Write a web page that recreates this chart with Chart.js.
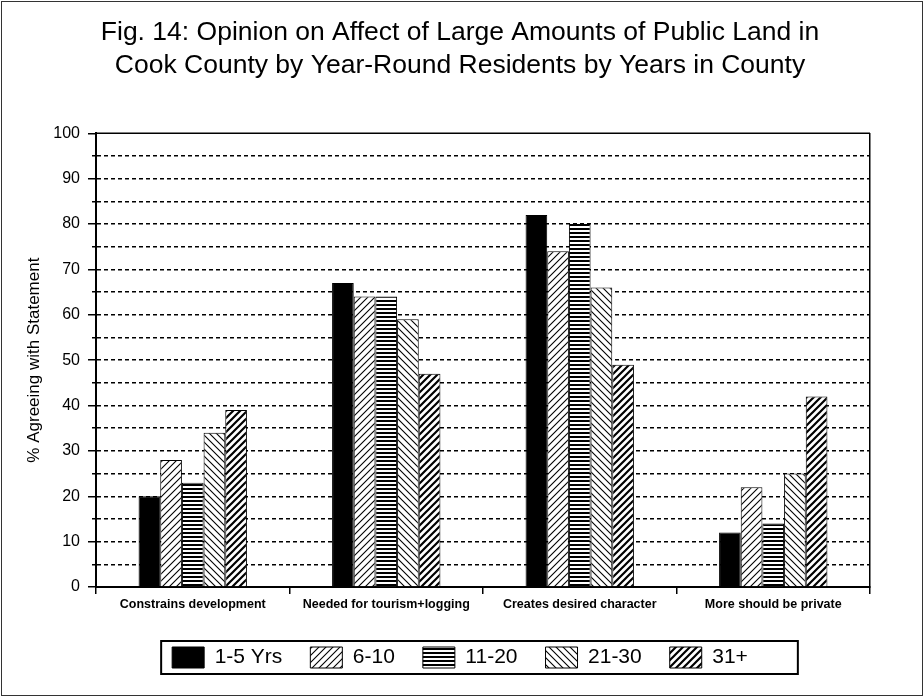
<!DOCTYPE html>
<html>
<head>
<meta charset="utf-8">
<script src="https://cdn.jsdelivr.net/npm/chart.js@4.4.1/dist/chart.umd.min.js"></script>
<style>
  html, body { margin: 0; padding: 0; background: #fff; }
  #wrap { width: 924px; height: 697px; }
</style>
</head>
<body>
<div id="wrap"><canvas id="landChart" width="924" height="697"></canvas></div>
<script>
const categories = ['Constrains development', 'Needed for tourism+logging', 'Creates desired character', 'More should be private'];
const seriesLabels = ['1-5 Yrs', '6-10', '11-20', '21-30', '31+'];
const yrs1to5 = [20, 67, 82, 12];
const yrs6to10 = [28, 64, 74, 22];
const yrs11to20 = [23, 64, 80, 14];
const yrs21to30 = [34, 59, 66, 25];
const yrs31plus = [39, 47, 49, 42];

const FONT = "'Liberation Sans', Arial, sans-serif";
const canvas = document.getElementById('landChart');
const ctx = canvas.getContext('2d');

// hatch fills, built on small tiles
function tile(size, draw) {
    const c = document.createElement('canvas');
    c.width = size; c.height = size;
    const g = c.getContext('2d');
    g.fillStyle = '#fff';
    g.fillRect(0, 0, size, size);
    g.strokeStyle = '#000';
    g.fillStyle = '#000';
    draw(g, size);
    return ctx.createPattern(c, 'repeat');
}
function slash(width) {
    return tile(7, (g, s) => {
        g.lineWidth = width;
        g.beginPath();
        g.moveTo(0, s); g.lineTo(s, 0);
        g.moveTo(-1, 1); g.lineTo(1, -1);
        g.moveTo(s - 1, s + 1); g.lineTo(s + 1, s - 1);
        g.stroke();
    });
}
function backslash(width) {
    return tile(7, (g, s) => {
        g.lineWidth = width;
        g.beginPath();
        g.moveTo(0, 0); g.lineTo(s, s);
        g.moveTo(-1, s - 1); g.lineTo(1, s + 1);
        g.moveTo(s - 1, -1); g.lineTo(s + 1, 1);
        g.stroke();
    });
}
const stripes = tile(4, (g) => { g.fillRect(0, 0, 4, 2); });

const fills = ['#000', slash(1.1), stripes, backslash(1.1), slash(2.2)];
const values = [yrs1to5, yrs6to10, yrs11to20, yrs21to30, yrs31plus];

const framePlugin = {
    id: 'frame',
    beforeDraw(chart) {
        const c = chart.ctx;
        c.save();
        c.fillStyle = '#fff';
        c.fillRect(0, 0, chart.width, chart.height);
        c.restore();
    },
    afterDraw(chart) {
        const c = chart.ctx, a = chart.chartArea;
        c.save();
        c.strokeStyle = '#000';
        c.lineWidth = 1.5;
        c.beginPath();
        c.moveTo(a.left, a.top);
        c.lineTo(a.right, a.top);
        c.stroke();
        // box round the legend
        const hb = chart.legend.legendHitBoxes;
        if (hb && hb.length) {
            const last = hb[hb.length - 1];
            const l = hb[0].left - 11;
            const r = last.left + last.width + 50;
            const t = hb[0].top - 6;
            c.lineWidth = 2;
            c.strokeRect(l, t, r - l, 33);
        }
        // outer frame
        c.lineWidth = 1;
        c.strokeStyle = '#333';
        c.strokeRect(1.5, 1.5, chart.width - 3, chart.height - 3);
        c.restore();
    }
};

new Chart(ctx, {
    type: 'bar',
    data: {
        labels: categories,
        datasets: seriesLabels.map((label, i) => ({
            label: label,
            data: values[i],
            backgroundColor: fills[i],
            borderColor: '#000',
            borderWidth: 1
        }))
    },
    options: {
        responsive: false,
        animation: false,
        devicePixelRatio: 1,
        layout: { padding: { left: 22, right: 26, top: 0, bottom: 19 } },
        datasets: { bar: { categoryPercentage: 0.56, barPercentage: 1.0 } },
        plugins: {
            title: {
                display: true,
                text: ['Fig. 14: Opinion on Affect of Large Amounts of Public Land in',
                       'Cook County by Year-Round Residents by Years in County'],
                color: '#000',
                font: { family: FONT, size: 26.5, weight: 'normal', lineHeight: 1.25 },
                padding: { top: 16, bottom: 51 }
            },
            legend: {
                position: 'bottom',
                labels: {
                    color: '#000',
                    font: { family: FONT, size: 21 },
                    boxWidth: 32,
                    boxHeight: 21,
                    padding: 28
                }
            },
            tooltip: { enabled: false }
        },
        scales: {
            x: {
                grid: { offset: true, drawOnChartArea: false, drawTicks: true, tickLength: 7, color: '#000', lineWidth: 1.5 },
                border: { color: '#000', width: 2 },
                ticks: { color: '#000', font: { family: FONT, size: 12.5, weight: 'bold' }, padding: 3, maxRotation: 0, autoSkip: false },
                afterFit: (s) => { s.height = 32; }
            },
            y: {
                min: 0,
                max: 100,
                ticks: {
                    stepSize: 5,
                    color: '#000',
                    padding: 8,
                    font: { family: FONT, size: 16 },
                    callback: (v) => (v % 10 === 0 ? v : '')
                },
                grid: {
                    color: (c) => (c.tick && (c.tick.value === 0 || c.tick.value === 100)) ? 'rgba(0,0,0,0)' : '#000',
                    lineWidth: 1.5,
                    tickColor: '#000',
                    tickLength: 8,
                    tickBorderDash: (c) => (c.tick && c.tick.value % 10 === 0) ? [] : [0, 4, 4, 20]
                },
                border: { color: '#000', width: 2, dash: [4, 3] },
                title: {
                    display: true,
                    text: '% Agreeing with Statement',
                    color: '#000',
                    font: { family: FONT, size: 17 },
                    padding: { top: 2, bottom: 0 }
                },
                afterFit: (s) => { s.width = 74; }
            },
            // right edge of the plot box
            yRight: {
                position: 'right',
                min: 0,
                max: 100,
                grid: { drawOnChartArea: false, drawTicks: false },
                ticks: { display: false },
                border: { color: '#000', width: 1.5 },
                afterFit: (s) => { s.width = 28; }
            }
        }
    },
    plugins: [framePlugin]
});
</script>
</body>
</html>
